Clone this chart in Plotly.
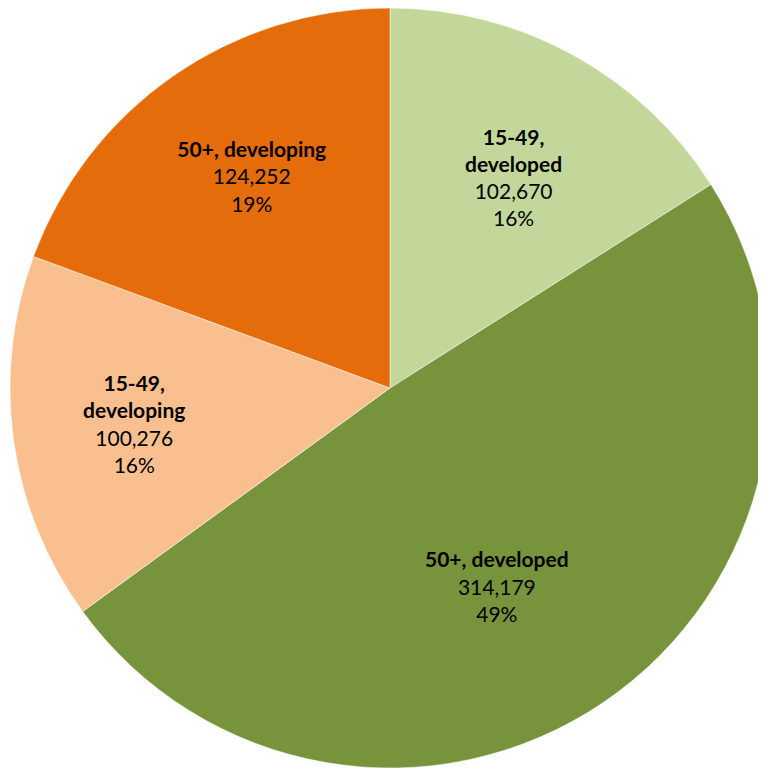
import plotly.graph_objects as go

categories = ["15-49,<br>developed", "50+, developed", "15-49,<br>developing", "50+, developing"]
values = [102670, 314179, 100276, 124252]
colors = ["#C4D79B", "#77933C", "#FABF8F", "#E46C0A"]

base = "<b>%{label}</b><br>%{value:,}<br>%{percent:.0%}"
# blank lines nudge the label block to sit like the original's label placement
templates = [
    " <br>" + base,
    " <br> <br> <br>" + base,
    base,
    base + "<br> ",
]

fig = go.Figure(go.Pie(
    labels=categories,
    values=values,
    sort=False,
    direction="clockwise",
    rotation=0,
    marker=dict(colors=colors, line=dict(color="white", width=0.5)),
    texttemplate=templates,
    textposition="inside",
    insidetextorientation="horizontal",
    textfont=dict(family="Lato", size=21, color="black"),
    hoverinfo="label+value+percent",
    domain=dict(x=[2/766, 762/766], y=[10/770, 1.0]),
    showlegend=False,
))

fig.update_layout(
    width=766, height=770,
    margin=dict(l=0, r=0, t=0, b=0),
    paper_bgcolor="white",
    uniformtext=dict(minsize=21, mode="show"),
)

fig.write_html("out.html")
